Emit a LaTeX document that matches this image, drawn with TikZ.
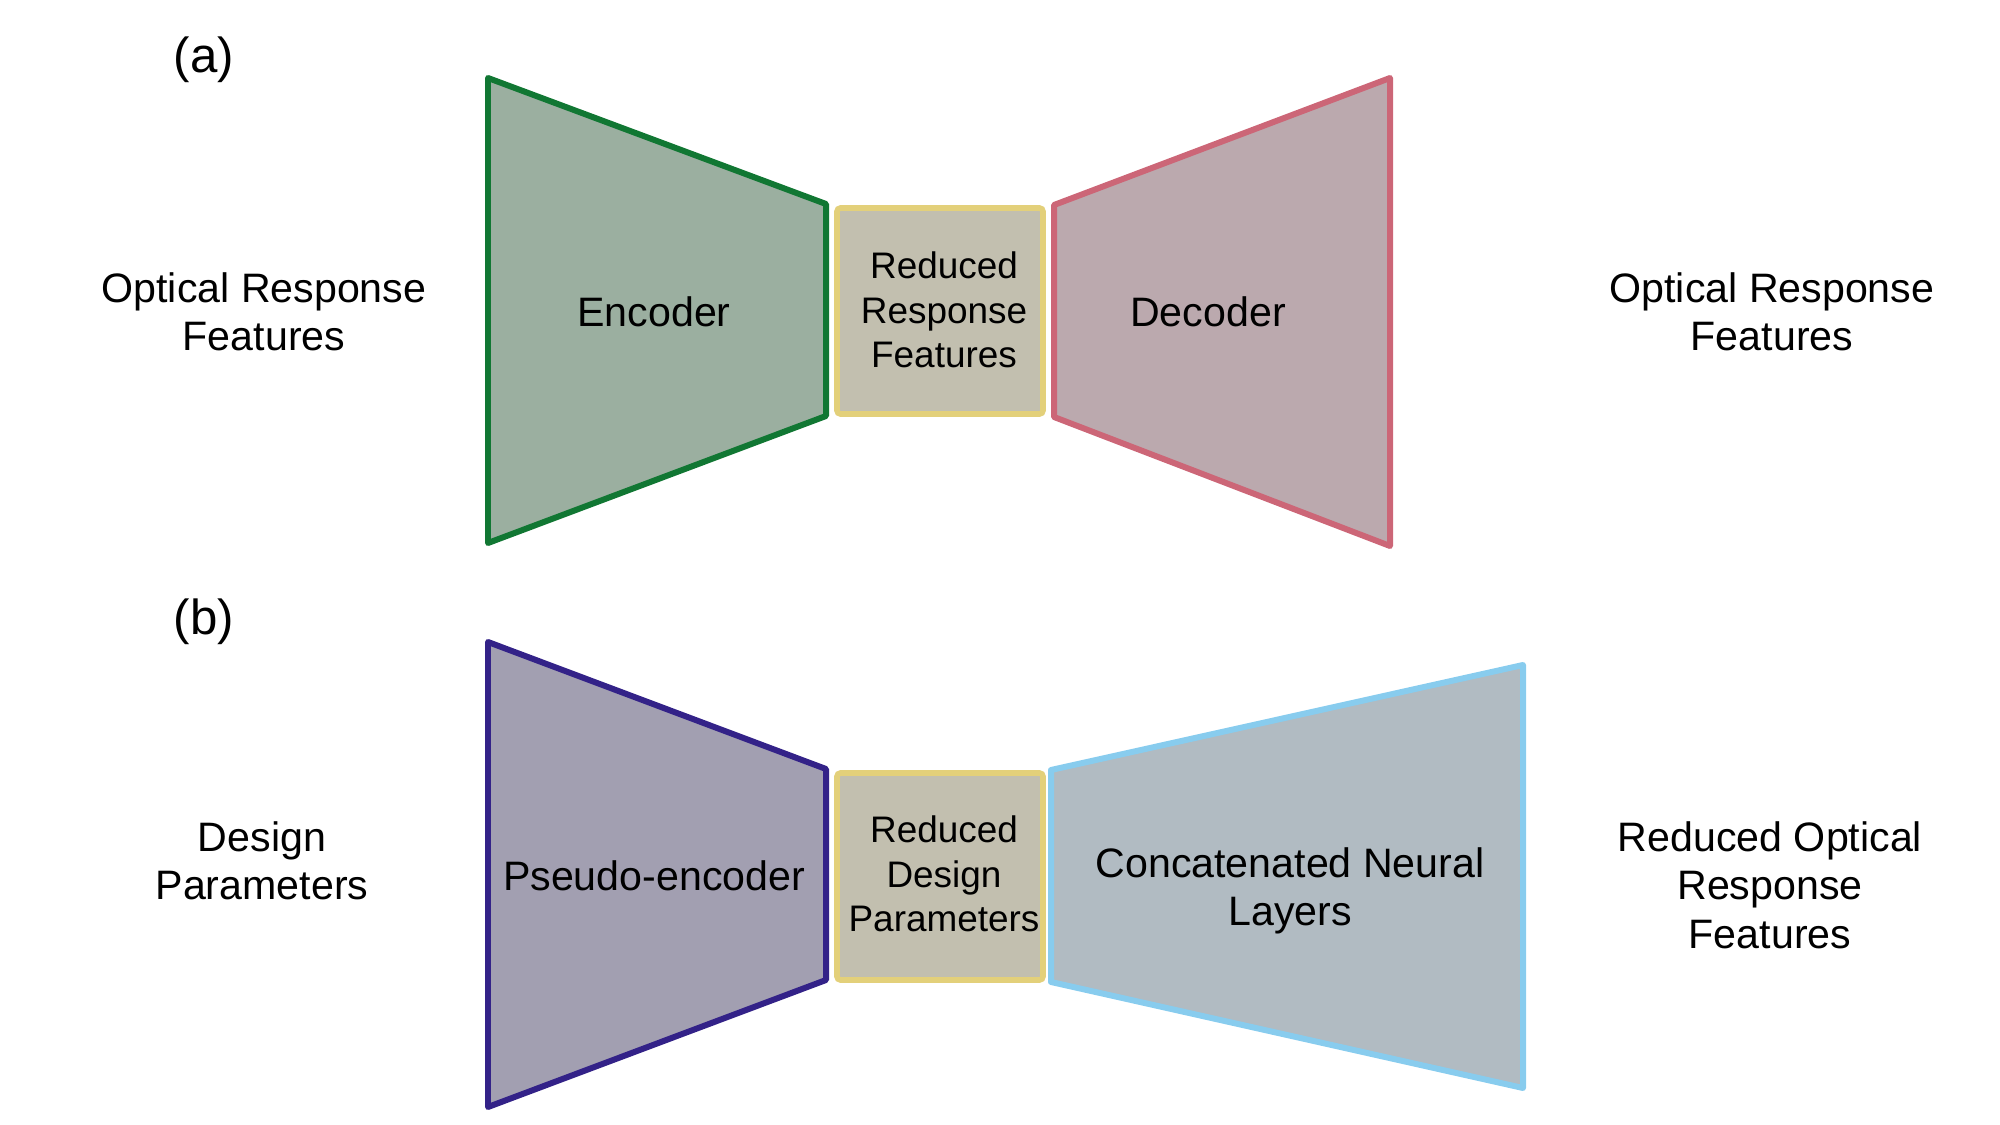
\documentclass[tikz,border=0pt]{standalone}
\usepackage{fontspec}
\setmainfont{Liberation Sans}
\usepackage{xcolor}
\usetikzlibrary{positioning}
\definecolor{encgreen}{HTML}{117733}
\definecolor{encfill}{HTML}{9BAFA0}
\definecolor{decrose}{HTML}{CC6677}
\definecolor{decfill}{HTML}{BBA9AE}
\definecolor{psindigo}{HTML}{332288}
\definecolor{psfill}{HTML}{A29FB1}
\definecolor{catcyan}{HTML}{88CCEE}
\definecolor{catfill}{HTML}{B1BBC2}
\definecolor{latsand}{HTML}{E3D07A}
\definecolor{latfill}{HTML}{C2BFAF}
\tikzset{
  block/.style={line width=1.7pt,line join=round},
  latent/.style={line width=1.6pt,rounded corners=1pt,draw=latsand,fill=latfill},
  lbl/.style={font=\fontsize{11.7}{13.8}\selectfont,align=center},
  smalllbl/.style={font=\fontsize{10.5}{12.7}\selectfont,align=center},
  panel/.style={font=\fontsize{14}{16}\selectfont}
}

\begin{document}
\begin{tikzpicture}[x=0.01cm,y=-0.01cm]
\useasboundingbox (0,0) rectangle (2000,1125);
% (a) autoencoder
\draw[block,draw=encgreen,fill=encfill] (488,78) -- (826,204) -- (826,416) -- (488,543) -- cycle;
\draw[latent] (837,208) rectangle (1043,414);
\draw[block,draw=decrose,fill=decfill] (1054,205) -- (1390,78) -- (1390,546) -- (1054,417) -- cycle;
\node[panel] (pa) at (204,60) {(a)};
\node[lbl] (ina) at (264,312) {Optical Response\\Features};
\node[lbl] (enc) at (654,312) {Encoder};
\node[smalllbl] (lata) at (944,310) {Reduced\\Response\\Features};
\node[lbl] (dec) at (1208,312) {Decoder};
\node[lbl] (outa) at (1772,312) {Optical Response\\Features};
% (b) pseudo-encoder
\draw[block,draw=psindigo,fill=psfill] (488,642) -- (826,769) -- (826,980) -- (488,1107) -- cycle;
\draw[latent] (837,773) rectangle (1043,980);
\draw[block,draw=catcyan,fill=catfill] (1051,770) -- (1523,665) -- (1523,1088) -- (1051,982) -- cycle;
\node[panel] (pb) at (204,622) {(b)};
\node[lbl] (inb) at (262,861) {Design\\Parameters};
\node[lbl] (psenc) at (654,876) {Pseudo-encoder};
\node[smalllbl] (latb) at (944,874) {Reduced\\Design\\Parameters};
\node[lbl] (cat) at (1290,891) {Concatenated Neural\\Layers};
\node[lbl] (outb) at (1770,885) {Reduced Optical\\Response\\Features};
\end{tikzpicture}
\end{document}
